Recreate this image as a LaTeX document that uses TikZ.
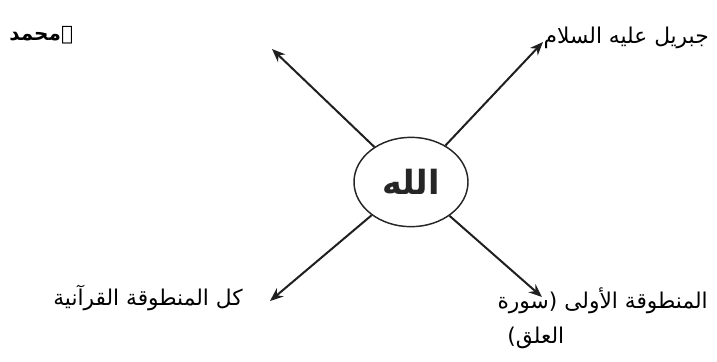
\documentclass[tikz,border=0pt]{standalone}
\usepackage{fontspec}
\setmainfont{Liberation Sans}
\newfontfamily\ar[Script=Arabic]{DejaVu Sans}
\TeXXeTstate=1
\usetikzlibrary{shapes.geometric,arrows.meta}
\begin{document}
\begin{tikzpicture}[x=0.75pt,y=-0.75pt,
  lbl/.style={inner sep=0pt, font=\ar\fontsize{16.3}{26}\selectfont},
  arr/.style={-{Stealth[length=10pt,width=8pt]}, line width=1.5pt, black!88},
  hub/.style={draw, ellipse, line width=1.1pt, black!85, inner sep=0pt,
    minimum width=85.5pt, minimum height=67pt, font=\ar\bfseries\fontsize{25}{28}\selectfont}]
\useasboundingbox (0,0) rectangle (717,361);
\node[hub] (allah) at (411,182) {\beginR الله\endR};
\coordinate (tl) at (272,49);
\coordinate (tr) at (543,42);
\coordinate (bl) at (270,301);
\coordinate (br) at (542,297);
\draw[arr] (allah) -- (tl);
\draw[arr] (allah) -- (tr);
\draw[arr] (allah) -- (bl);
\draw[arr] (allah) -- (br);
\node[lbl, font=\ar\bfseries\fontsize{15}{20}\selectfont, anchor=base west] (muh) at (9,40) {\beginR ﷺمحمد\endR};
\node[lbl, anchor=base east] (jib) at (709,43) {\beginR جبريل عليه السلام\endR};
\node[lbl, anchor=base east] (kul) at (243,305) {\beginR كل المنطوقة القرآنية\endR};
\node[lbl, anchor=base east] (ula1) at (708,308) {\beginR المنطوقة الأولى (سورة\endR};
\node[lbl, anchor=base west] (ula2) at (507,343) {\beginR العلق)\endR};
\end{tikzpicture}
\end{document}
